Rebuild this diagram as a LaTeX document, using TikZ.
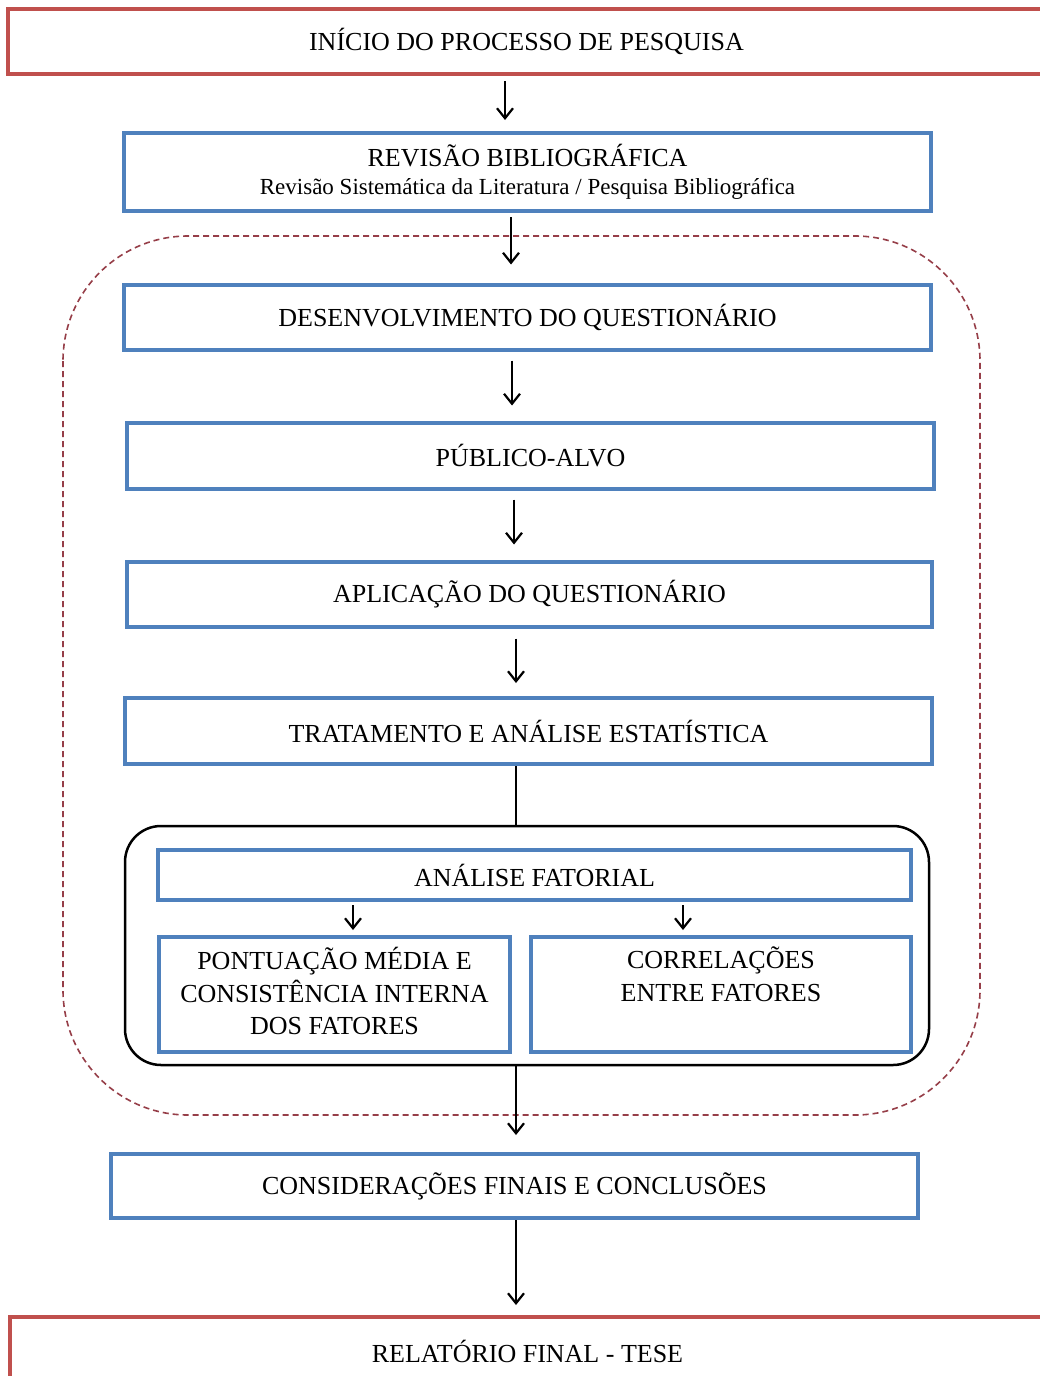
\documentclass[tikz,border=0pt]{standalone}
\usepackage{fontspec}
\setmainfont{Liberation Serif}
\usetikzlibrary{arrows.meta}

\definecolor{boxblue}{RGB}{79,129,189}
\definecolor{boxred}{RGB}{192,80,77}
\definecolor{dashred}{RGB}{150,62,72}

\tikzset{
  mainfont/.style={font=\fontsize{26}{33}\selectfont},
  bluebox/.style={draw=boxblue, line width=4pt, fill=white, inner sep=0pt,
    align=center, mainfont},
  redbox/.style={draw=boxred, line width=4pt, fill=white, inner sep=0pt,
    align=center, mainfont},
  arr/.style={line width=2pt, -{Straight Barb[length=10pt,width=16pt,line width=2.2pt]}},
  plain/.style={line width=2pt},
}

\begin{document}
\begin{tikzpicture}[x=1pt,y=-1pt]
\useasboundingbox (0,0) rectangle (1040,1376);
\fill[white] (0,0) rectangle (1040,1376);

% dashed enclosure of the questionnaire stage
\draw[dashred, line width=1.6pt, dash pattern=on 6pt off 4pt, rounded corners=125pt]
  (63,236) rectangle (980,1115);

% black frame around the factor analysis group
\node[draw=black, line width=2.5pt, rounded corners=36pt,
      minimum width=804pt, minimum height=239pt, inner sep=0pt]
  (grp) at (527,945.5) {};

% boxes
\node[redbox, minimum width=1037pt, minimum height=65pt] (ini) at (526.5,41.5)
  {INÍCIO DO PROCESSO DE PESQUISA};
\node[bluebox, minimum width=807pt, minimum height=78pt] (rev) at (527.5,172)
  {REVISÃO BIBLIOGRÁFICA\\[-5pt]
   {\fontsize{23}{27}\selectfont Revisão Sistemática da Literatura / Pesquisa Bibliográfica}};
\node[bluebox, minimum width=807pt, minimum height=65pt] (des) at (527.5,317)
  {DESENVOLVIMENTO DO QUESTIONÁRIO};
\node[bluebox, minimum width=807pt, minimum height=66pt] (pub) at (530.5,455.5)
  {PÚBLICO-ALVO};
\node[bluebox, minimum width=805pt, minimum height=65pt] (apl) at (529.5,594)
  {APLICAÇÃO DO QUESTIONÁRIO};
\node[bluebox, minimum width=807pt, minimum height=66pt] (tra) at (528.5,731)
  {TRATAMENTO E ANÁLISE ESTATÍSTICA};
\node[bluebox, minimum width=753pt, minimum height=50pt] (af) at (534.5,875)
  {ANÁLISE FATORIAL};
\node[bluebox, minimum width=351pt, minimum height=115pt, anchor=north] (pon) at (334.5,935)
  {};
\node[mainfont, align=center, anchor=north, inner sep=0pt] (pont) at (334.5,947)
  {PONTUAÇÃO MÉDIA E\\[-0.5pt] CONSISTÊNCIA INTERNA\\[-0.5pt] DOS FATORES};
\node[bluebox, minimum width=380pt, minimum height=115pt, anchor=north] (cor) at (721,935)
  {};
\node[mainfont, align=center, anchor=north, inner sep=0pt] (cort) at (721,947)
  {CORRELAÇÕES\\[-0.5pt] ENTRE FATORES};
\node[bluebox, minimum width=807pt, minimum height=64pt] (con) at (514.5,1186)
  {CONSIDERAÇÕES FINAIS E CONCLUSÕES};
\node[redbox, minimum width=1035pt, minimum height=75pt, anchor=north] (rel) at (527.5,1315)
  {};
\node[mainfont, inner sep=0pt] (relt) at (527.5,1351) {RELATÓRIO FINAL - TESE};

% connectors
\draw[arr] (ini.south -| 505,0) ++(0,5) -- ([yshift=11pt]rev.north -| 505,0);
\draw[arr] (rev.south -| 511,0) ++(0,4) -- ([yshift=18pt]des.north -| 511,0);
\draw[arr] (des.south -| 512,0) ++(0,9) -- ([yshift=15pt]pub.north -| 512,0);
\draw[arr] (pub.south -| 514,0) ++(0,9) -- ([yshift=15pt]apl.north -| 514,0);
\draw[arr] (apl.south -| 516,0) ++(0,10) -- ([yshift=13pt]tra.north -| 516,0);
\draw[plain] (tra.south -| 516,0) -- (grp.north -| 516,0);
\draw[arr] (af.south -| 353,0) ++(0,3) -- ([yshift=5pt]pon.north -| 353,0);
\draw[arr] (af.south -| 683,0) ++(0,3) -- ([yshift=5pt]cor.north -| 683,0);
\draw[arr] (grp.south -| 516,0) -- ([yshift=17pt]con.north -| 516,0);
\draw[arr] (con.south -| 516,0) -- ([yshift=10pt]rel.north -| 516,0);
\end{tikzpicture}
\end{document}
